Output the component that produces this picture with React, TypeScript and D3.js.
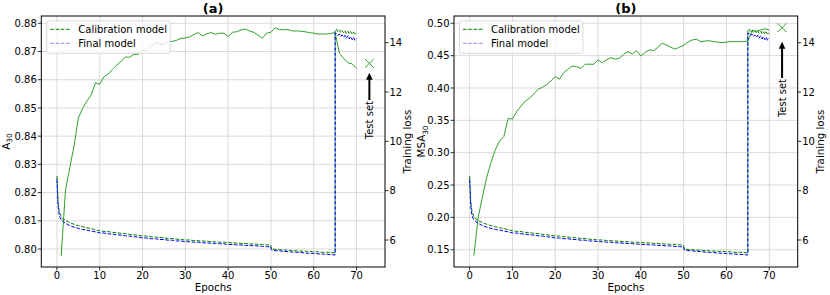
import * as d3 from "d3";

// tick values
const xTicks = [0, 10, 20, 30, 40, 50, 60, 70];
const lossTicks = [6, 8, 10, 12, 14];
const a30Ticks = [0.8, 0.81, 0.82, 0.83, 0.84, 0.85, 0.86, 0.87, 0.88];
const msa30Ticks = [0.15, 0.2, 0.25, 0.3, 0.35, 0.4, 0.45, 0.5];

// accuracy per epoch (epochs 1..70)
const a30 = [
  0.7975, 0.8209, 0.8288, 0.8365, 0.8464, 0.8499, 0.8524, 0.8546, 0.8589, 0.8584,
  0.8611, 0.862, 0.8637, 0.8652, 0.8665, 0.868, 0.868, 0.869, 0.869, 0.8705,
  0.8704, 0.8718, 0.8731, 0.8728, 0.8725, 0.8735, 0.8736, 0.874, 0.8747, 0.8748,
  0.8752, 0.876, 0.8767, 0.8755, 0.8763, 0.8767, 0.8761, 0.8765, 0.8765, 0.8753,
  0.8768, 0.877, 0.8776, 0.878, 0.8773, 0.8768, 0.8758, 0.8747, 0.8765, 0.8768,
  0.8784, 0.8778, 0.8777, 0.8778, 0.8773, 0.8773, 0.8772, 0.877, 0.8767, 0.8765,
  0.8762, 0.8762, 0.8762, 0.8764, 0.8767, 0.8694, 0.8676, 0.866, 0.8656, 0.864,
];
const msa30 = [
  0.141, 0.2, 0.232, 0.262, 0.285, 0.3045, 0.318, 0.325, 0.353, 0.352,
  0.3636, 0.372, 0.38, 0.384, 0.391, 0.398, 0.401, 0.405, 0.411, 0.4176,
  0.4136, 0.4238, 0.429, 0.4341, 0.433, 0.43, 0.4367, 0.4367, 0.4367, 0.4434,
  0.4392, 0.4435, 0.447, 0.4444, 0.446, 0.452, 0.4562, 0.4526, 0.4577, 0.4495,
  0.455, 0.4588, 0.4577, 0.463, 0.4691, 0.4665, 0.463, 0.4599, 0.463, 0.466,
  0.471, 0.4742, 0.4753, 0.4716, 0.4725, 0.4732, 0.4716, 0.471, 0.4701, 0.471,
  0.4716, 0.4716, 0.4716, 0.4716, 0.4727, 0.489, 0.4875, 0.49, 0.4915, 0.4895,
];
const testEpoch = 73;
const a30Test = 0.8658;
const msa30Test = 0.4932;

// training loss (right axis), same run in both panels
const lossEpochs = [
  0, 0.25, 0.5, 0.75, 1, 1.5,
  2, 3, 4, 5, 6, 7, 8, 9,
  10, 11, 12, 13, 14, 15, 16, 17, 18, 19,
  20, 21, 22, 23, 24, 25, 26, 27, 28, 29,
  30, 31, 32, 33, 34, 35, 36, 37, 38, 39,
  40, 41, 42, 43, 44, 45, 46, 47, 48, 49,
  49.9, 50.2,
  51, 52, 53, 54, 55, 56, 57, 58, 59, 60, 61, 62, 63, 64, 65,
  65,
  65.3, 65.6, 66, 66.3, 66.6, 67, 67.3, 67.6, 68, 68.3, 68.6, 69, 69.3, 69.6, 70,
];
const calibLoss = [
  8.59, 7.62, 7.22, 7.06, 6.94, 6.85,
  6.79, 6.7, 6.64, 6.58, 6.54, 6.5, 6.46, 6.42,
  6.37, 6.35, 6.34, 6.31, 6.3, 6.27, 6.26, 6.23, 6.21, 6.19,
  6.16, 6.16, 6.13, 6.12, 6.1, 6.09, 6.06, 6.06, 6.03, 6.02,
  6.0, 6.0, 5.98, 5.97, 5.96, 5.95, 5.93, 5.93, 5.91, 5.91,
  5.9, 5.88, 5.88, 5.86, 5.86, 5.84, 5.84, 5.82, 5.82, 5.8,
  5.8, 5.64,
  5.62, 5.61, 5.59, 5.59, 5.57, 5.56, 5.55, 5.54, 5.54, 5.52, 5.52, 5.5, 5.5, 5.49, 5.48,
  14.52,
  14.55, 14.45, 14.52, 14.42, 14.5, 14.4, 14.48, 14.38, 14.47, 14.36, 14.45, 14.35, 14.44, 14.33, 14.4,
];
const finalLoss = [
  8.46, 7.4, 7.05, 6.9, 6.82, 6.74,
  6.68, 6.58, 6.52, 6.47, 6.43, 6.4, 6.36, 6.33,
  6.29, 6.28, 6.25, 6.24, 6.21, 6.2, 6.17, 6.16, 6.13, 6.12,
  6.08, 6.08, 6.05, 6.05, 6.02, 6.02, 5.99, 5.99, 5.96, 5.96,
  5.93, 5.93, 5.91, 5.91, 5.89, 5.88, 5.87, 5.86, 5.85, 5.84,
  5.82, 5.82, 5.8, 5.8, 5.78, 5.78, 5.76, 5.76, 5.74, 5.73,
  5.72, 5.59,
  5.57, 5.56, 5.54, 5.53, 5.51, 5.5, 5.49, 5.47, 5.46, 5.45, 5.44, 5.43, 5.42, 5.41, 5.39,
  14.38,
  14.38, 14.3, 14.35, 14.25, 14.32, 14.22, 14.3, 14.18, 14.28, 14.15, 14.25, 14.12, 14.22, 14.1, 14.18,
];

const FONT = "DejaVu Sans, sans-serif";
const SOLID = "#2ca02c";
const CALIB = "#008000";
const FINAL = "#0000ff";
const GRID = "#dadada";

type PanelProps = {
  left: number;
  right: number;
  acc: number[];
  accTicks: number[];
  accDomain: [number, number];
  accTest: number;
  arrowTip: number;
  arrowTail: number;
  title: string;
  yName: string;
  yLabelX: number;
};

function Panel(p: PanelProps) {
  const top = 16;
  const bottom = 267;
  const x = d3.scaleLinear().domain([-3.65, 76.65]).range([p.left, p.right]);
  const y = d3.scaleLinear().domain(p.accDomain).range([bottom, top]);
  const y2 = d3.scaleLinear().domain([4.905, 15.083]).range([bottom, top]);

  const accLine = d3
    .line<number>()
    .x((_, i) => x(i + 1))
    .y((d) => y(d));
  const lossLine = d3
    .line<number>()
    .x((_, i) => x(lossEpochs[i]))
    .y((d) => y2(d));

  const cx = (p.left + p.right) / 2;
  const cy = (top + bottom) / 2;
  const tx = x(testEpoch);
  const ty = y(p.accTest);
  const tipY = y(p.arrowTip);
  const tailY = y(p.arrowTail);
  const lx = p.left + 5.4;

  return (
    <g fontFamily={FONT}>
      {/* grid */}
      {xTicks.map((t) => (
        <line key={"gx" + t} x1={x(t)} x2={x(t)} y1={top} y2={bottom} stroke={GRID} strokeWidth={1} />
      ))}
      {p.accTicks.map((t) => (
        <line key={"gy" + t} x1={p.left} x2={p.right} y1={y(t)} y2={y(t)} stroke={GRID} strokeWidth={1} />
      ))}

      {/* accuracy */}
      <path d={accLine(p.acc) ?? ""} fill="none" stroke={SOLID} strokeWidth={1} />

      {/* training loss */}
      <path d={lossLine(calibLoss) ?? ""} fill="none" stroke={CALIB} strokeWidth={1} strokeDasharray="3.7,1.6" />
      <path d={lossLine(finalLoss) ?? ""} fill="none" stroke={FINAL} strokeWidth={1} strokeDasharray="3.7,1.6" />

      {/* test set marker + arrow */}
      <path
        d={`M${tx - 4.3},${ty - 4.3}L${tx + 4.3},${ty + 4.3}M${tx - 4.3},${ty + 4.3}L${tx + 4.3},${ty - 4.3}`}
        stroke={SOLID}
        strokeWidth={1}
        fill="none"
      />
      <line x1={tx} x2={tx} y1={tailY} y2={tipY + 6} stroke="black" strokeWidth={2} />
      <path d={`M${tx},${tipY}L${tx - 3.3},${tipY + 7}L${tx + 3.3},${tipY + 7}Z`} fill="black" />
      <text
        transform={`translate(${tx + 3.8},${tailY + 1}) rotate(-90)`}
        textAnchor="end"
        fontSize={10}
        fill="black"
      >
        Test set
      </text>

      {/* frame */}
      <rect x={p.left} y={top} width={p.right - p.left} height={bottom - top} fill="none" stroke="black" strokeWidth={1} />

      {/* x axis */}
      {xTicks.map((t) => (
        <g key={"xt" + t}>
          <line x1={x(t)} x2={x(t)} y1={bottom} y2={bottom + 3.5} stroke="black" strokeWidth={0.8} />
          <text x={x(t)} y={278.5} textAnchor="middle" fontSize={10}>
            {t}
          </text>
        </g>
      ))}
      <text x={cx} y={290.5} textAnchor="middle" fontSize={10.3}>
        Epochs
      </text>

      {/* left axis */}
      {p.accTicks.map((t) => (
        <g key={"yt" + t}>
          <line x1={p.left - 3.5} x2={p.left} y1={y(t)} y2={y(t)} stroke="black" strokeWidth={0.8} />
          <text x={p.left - 4.5} y={y(t)} dy="0.36em" textAnchor="end" fontSize={10}>
            {t.toFixed(2)}
          </text>
        </g>
      ))}
      <text transform={`translate(${p.yLabelX},${cy}) rotate(-90)`} textAnchor="middle" fontSize={10.3}>
        {p.yName}
        <tspan fontSize={7.3} dy={2.6}>
          30
        </tspan>
      </text>

      {/* right axis */}
      {lossTicks.map((t) => (
        <g key={"rt" + t}>
          <line x1={p.right} x2={p.right + 3.5} y1={y2(t)} y2={y2(t)} stroke="black" strokeWidth={0.8} />
          <text x={p.right + 4.5} y={y2(t)} dy="0.36em" textAnchor="start" fontSize={10}>
            {t}
          </text>
        </g>
      ))}
      <text transform={`translate(${p.right + 26},${cy}) rotate(-90)`} textAnchor="middle" fontSize={10.3}>
        Training loss
      </text>

      {/* legend */}
      <rect x={lx} y={21} width={123.5} height={32.3} rx={2} fill="white" fillOpacity={0.8} stroke="#cfcfcf" strokeWidth={0.8} />
      <line x1={lx + 3.5} x2={lx + 23.5} y1={29.3} y2={29.3} stroke={CALIB} strokeWidth={1} strokeDasharray="3.7,1.6" />
      <line x1={lx + 3.5} x2={lx + 23.5} y1={43.3} y2={43.3} stroke="#8c8cff" strokeWidth={1} strokeDasharray="3.7,1.6" />
      <text x={lx + 31.6} y={33} fontSize={10}>
        Calibration model
      </text>
      <text x={lx + 31.6} y={47} fontSize={10}>
        Final model
      </text>

      {/* title */}
      <text x={cx} y={12.5} textAnchor="middle" fontSize={13} fontWeight="bold">
        {p.title}
      </text>
    </g>
  );
}

export default function App() {
  return (
    <svg
      width={830}
      height={295}
      viewBox="0 0 830 295"
      style={{ position: "absolute", left: 0, top: 0, background: "white" }}
    >
      <rect width={830} height={295} fill="white" />
      <Panel
        left={41.3}
        right={385}
        acc={a30}
        accTicks={a30Ticks}
        accDomain={[0.79362, 0.88259]}
        accTest={a30Test}
        arrowTip={0.8625}
        arrowTail={0.8528}
        title="(a)"
        yName="A"
        yLabelX={9.5}
      />
      <Panel
        left={454}
        right={797.7}
        acc={msa30}
        accTicks={msa30Ticks}
        accDomain={[0.12329, 0.51127]}
        accTest={msa30Test}
        arrowTip={0.4716}
        arrowTail={0.4155}
        title="(b)"
        yName="MSA"
        yLabelX={425}
      />
    </svg>
  );
}
